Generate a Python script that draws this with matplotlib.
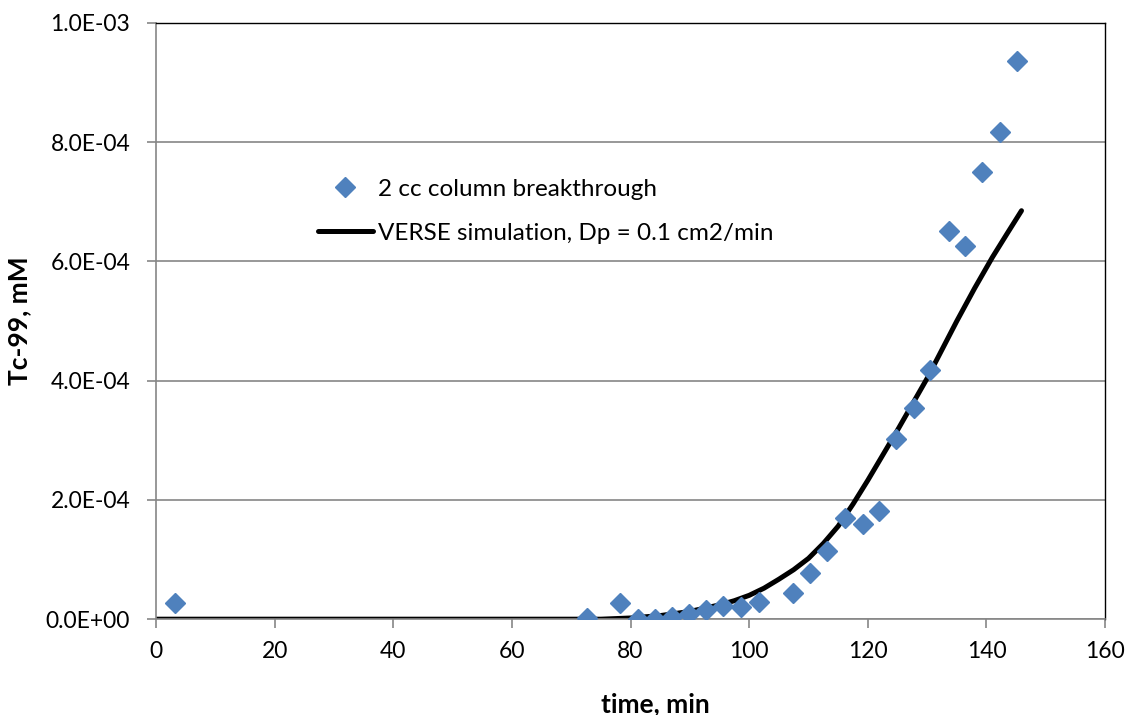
import matplotlib.pyplot as plt
import matplotlib.ticker as mticker

# Measured breakthrough of Tc-99 on the 2 cc column
time_meas = [3.2, 72.7, 78.2, 81.3, 84.1, 87.0, 89.9, 92.7, 95.6, 98.6, 101.7,
             107.4, 110.3, 113.2, 116.2, 119.1, 121.9, 124.8, 127.7, 130.5,
             133.6, 136.4, 139.3, 142.2, 145.2]
conc_meas = [2.7e-5, 0.2e-5, 2.7e-5, 0.0, 0.0, 0.3e-5, 0.8e-5, 1.5e-5, 2.2e-5,
             2.0e-5, 2.8e-5, 4.4e-5, 7.7e-5, 1.14e-4, 1.70e-4, 1.59e-4, 1.81e-4,
             3.03e-4, 3.54e-4, 4.18e-4, 6.51e-4, 6.26e-4, 7.50e-4, 8.17e-4, 9.36e-4]

# VERSE model output
time_sim = [0, 75, 80, 85, 90, 95, 97.5, 100, 102.5, 105, 107.5, 110, 112.5,
            115, 117.5, 120, 125, 130, 135, 138, 141, 143.5, 145.9]
conc_sim = [0.0, 0.0, 0.2e-5, 0.6e-5, 1.3e-5, 2.4e-5, 3.1e-5, 4.0e-5, 5.2e-5,
            6.7e-5, 8.3e-5, 1.02e-4, 1.27e-4, 1.56e-4, 1.93e-4, 2.33e-4,
            3.17e-4, 4.04e-4, 5.0e-4, 5.55e-4, 6.07e-4, 6.47e-4, 6.85e-4]

plt.rcParams["font.family"] = ["Lato", "DejaVu Sans"]

fig = plt.figure(figsize=(11.3, 7.15), dpi=100)
ax = fig.add_axes([0.138, 0.134, 0.840, 0.834])

ax.plot(time_meas, conc_meas, linestyle="none", marker="D", markersize=10,
        color="#4F81BD", label="2 cc column breakthrough", zorder=3)
ax.plot(time_sim, conc_sim, color="black", linewidth=3.6,
        solid_capstyle="round", solid_joinstyle="round",
        label="VERSE simulation, Dp = 0.1 cm2/min", zorder=2)

ax.set_xlim(0, 160)
ax.set_ylim(0, 1.0e-3)
ax.set_xticks(range(0, 161, 20))
ax.set_yticks([i * 2e-4 for i in range(6)])
ax.yaxis.set_major_formatter(mticker.FuncFormatter(lambda v, _: f"{v:.1E}"))

ax.grid(axis="y", color="#868686", linewidth=1.2)
ax.set_axisbelow(True)
for side in ["left", "bottom"]:
    ax.spines[side].set_color("#868686")
    ax.spines[side].set_linewidth(1.2)
for side in ["top", "right"]:
    ax.spines[side].set_color("black")
    ax.spines[side].set_linewidth(1.0)
ax.tick_params(axis="both", direction="out", length=6.5, width=1.2,
               color="#868686", labelsize=16.5)
ax.tick_params(axis="x", pad=9)
ax.tick_params(axis="y", pad=12)

ax.set_xlabel("time, min", fontsize=19, fontweight="bold")
ax.set_ylabel("Tc-99, mM", fontsize=19, fontweight="bold")
ax.xaxis.set_label_coords(0.526, -0.122)
ax.yaxis.set_label_coords(-0.131, 0.5)

ax.legend(loc="upper left", bbox_to_anchor=(0.2814, 0.750),
          bbox_transform=fig.transFigure, frameon=False, fontsize=17.5,
          handlelength=2.26, handletextpad=0.2, labelspacing=0.95,
          borderpad=0, borderaxespad=0)

fig.savefig("out.png", dpi=100)
